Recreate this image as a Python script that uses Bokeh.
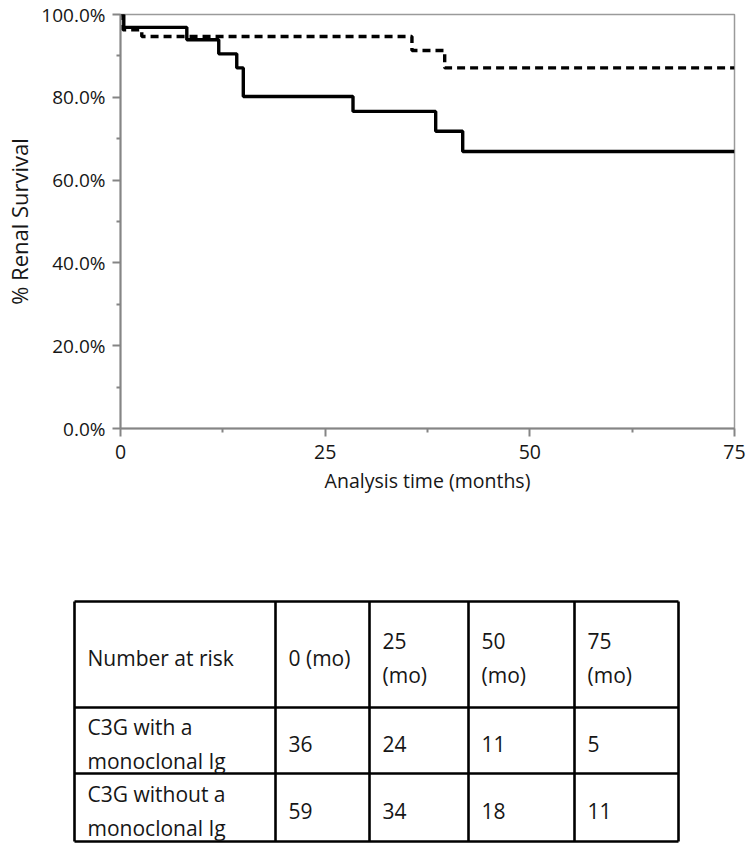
from bokeh.plotting import figure
from bokeh.layouts import column
from bokeh.models import Range1d, NumeralTickFormatter, FixedTicker, ColumnDataSource
from bokeh.core.properties import value
from bokeh.embed import file_html
from bokeh.resources import INLINE

# ---- data ----
solid_t = [0, 0.4, 8.1, 12.0, 14.2, 15.0, 28.4, 38.5, 41.8, 75]
solid_s = [1.0, 0.969, 0.939, 0.905, 0.871, 0.802, 0.766, 0.718, 0.669, 0.669]
dash_t = [0, 0.3, 2.6, 35.6, 39.6, 75]
dash_s = [1.0, 0.963, 0.947, 0.913, 0.871, 0.871]

x_ticks = [0, 25, 50, 75]
x_minor = [12.5, 37.5, 62.5]
y_ticks = [0.0, 0.2, 0.4, 0.6, 0.8, 1.0]
y_minor = [0.1, 0.3, 0.5, 0.7, 0.9]

header = ["Number at risk", "0 (mo)", "25\n(mo)", "50\n(mo)", "75\n(mo)"]
row_labels = ["C3G with a\nmonoclonal Ig", "C3G without a\nmonoclonal Ig"]
at_risk_with = [36, 24, 11, 5]
at_risk_without = [59, 34, 18, 11]

FONT = "Open Sans"
AX = "#858585"
TXT = "#161616"

W = 750
H_TOP = 508
H_TAB = 341

# ---- KM chart ----
p = figure(width=W, height=H_TOP, output_backend="svg", toolbar_location=None,
           x_range=Range1d(0, 75), y_range=Range1d(0, 1),
           min_border_left=120, min_border_right=16, min_border_top=14, min_border_bottom=80)
p.frame_align = False
p.background_fill_color = "white"
p.border_fill_color = "white"
p.outline_line_color = "#9a9a9a"
p.outline_line_width = 1.5
p.grid.visible = False

p.step(solid_t, solid_s, mode="after", line_color="black", line_width=3.4)
p.step(dash_t, dash_s, mode="after", line_color="black", line_width=3.4, line_dash="8 5")

p.xaxis.ticker = FixedTicker(ticks=x_ticks, minor_ticks=x_minor)
p.yaxis.ticker = FixedTicker(ticks=y_ticks, minor_ticks=y_minor)
p.yaxis.formatter = NumeralTickFormatter(format="0.0%")
p.xaxis.axis_label = "Analysis time (months)"
p.yaxis.axis_label = "% Renal Survival"
for ax in (p.xaxis, p.yaxis):
    ax.axis_line_color = AX
    ax.axis_line_width = 2
    ax.major_tick_line_color = AX
    ax.major_tick_line_width = 2
    ax.minor_tick_line_color = AX
    ax.minor_tick_line_width = 2
    ax.major_tick_in = 0
    ax.major_tick_out = 8
    ax.minor_tick_in = 0
    ax.minor_tick_out = 4
    ax.major_label_text_font = FONT
    ax.major_label_text_color = TXT
    ax.axis_label_text_font = FONT
    ax.axis_label_text_font_style = "normal"
    ax.axis_label_text_color = TXT
p.xaxis.major_label_text_font_size = "19.5px"
p.yaxis.major_label_text_font_size = "19px"
p.xaxis.axis_label_text_font_size = "19.5px"
p.yaxis.axis_label_text_font_size = "22px"
p.xaxis.major_label_standoff = 8
p.xaxis.axis_label_standoff = 5
p.yaxis.major_label_standoff = 7
p.yaxis.axis_label_standoff = 4

# ---- number-at-risk table ----
col_edges = [74, 275, 369, 468, 574, 678]
row_edges = [601, 707, 773, 841]
PAD = 13
LINE = 34

t = figure(width=W, height=H_TAB, output_backend="svg", toolbar_location=None,
           x_range=Range1d(0, W), y_range=Range1d(H_TOP + H_TAB, H_TOP),
           x_axis_location=None, y_axis_location=None, min_border=0)
t.frame_align = False
t.outline_line_color = None
t.grid.visible = False
t.background_fill_color = "white"
t.border_fill_color = "white"

# grid lines of the table
sx0, sy0, sx1, sy1 = [], [], [], []
for yv in row_edges:
    sx0.append(col_edges[0]); sx1.append(col_edges[-1]); sy0.append(yv); sy1.append(yv)
for xv in col_edges:
    sx0.append(xv); sx1.append(xv); sy0.append(row_edges[0]); sy1.append(row_edges[-1])
t.segment(sx0, sy0, sx1, sy1, line_color="black", line_width=2.6)

rows = [header,
        [row_labels[0]] + [str(v) for v in at_risk_with],
        [row_labels[1]] + [str(v) for v in at_risk_without]]
tx, ty, tt = [], [], []
for r, cells in enumerate(rows):
    cy = (row_edges[r] + row_edges[r + 1]) / 2 + 3
    for c, cell in enumerate(cells):
        lines = cell.split("\n")
        n = len(lines)
        for i, ln in enumerate(lines):
            tx.append(col_edges[c] + PAD)
            ty.append(cy + (i - (n - 1) / 2) * LINE)
            tt.append(ln)
src = ColumnDataSource(dict(x=tx, y=ty, text=tt))
t.text(x="x", y="y", text="text", source=src, text_font=value(FONT),
       text_font_size="21px", text_color=TXT, text_align="left", text_baseline="middle")

layout = column(p, t)
open("out.html", "w").write(file_html(layout, INLINE))
